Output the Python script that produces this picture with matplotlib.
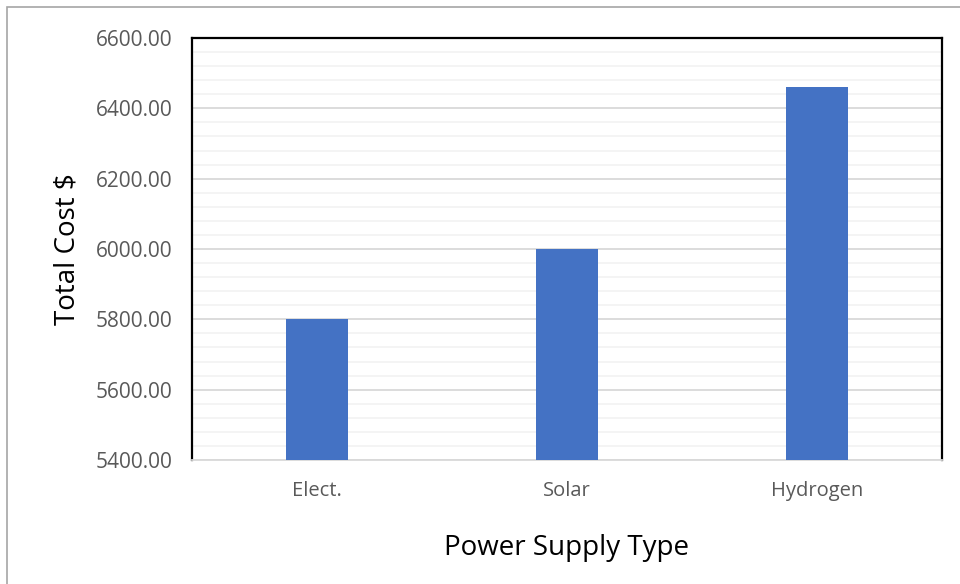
import matplotlib.pyplot as plt
from matplotlib.patches import Rectangle
import numpy as np

# data
types = ["Elect.", "Solar", "Hydrogen"]
cost = [5800.0, 6000.0, 6462.0]

plt.rcParams['font.family'] = ['Open Sans', 'DejaVu Sans']

fig = plt.figure(figsize=(9.6, 5.84), dpi=100)
ax = fig.add_axes([0.2, 0.2123, 0.78125, 0.7226])

# outer chart border
fig.patches.append(Rectangle((7 / 960, -0.1), 1.2, 1 - 7 / 584 + 0.1,
                             transform=fig.transFigure, fill=False,
                             edgecolor='#a6a6a6', linewidth=1.2))

x = np.arange(len(types))
ax.bar(x, cost, width=0.25, color='#4472c4', zorder=3)

ax.set_xlim(-0.5, 2.5)
ax.set_ylim(5400, 6600)
ax.set_yticks(np.arange(5400, 6601, 200))
ax.set_yticks(np.arange(5400, 6601, 40), minor=True)
ax.set_yticklabels([f"{v:.2f}" for v in np.arange(5400, 6601, 200)])
ax.set_xticks(x)
ax.set_xticklabels(types)

ax.grid(axis='y', which='major', color='#d9d9d9', linewidth=1.3, zorder=1)
ax.grid(axis='y', which='minor', color='#f2f2f2', linewidth=1.2, zorder=0)

ax.tick_params(axis='y', which='both', length=0, pad=14, labelsize=15, labelcolor='#595959')
ax.tick_params(axis='x', length=0, pad=15, labelsize=14.5, labelcolor='#595959')

for side in ['left', 'top', 'right']:
    ax.spines[side].set_color('black')
    ax.spines[side].set_linewidth(1.6)
ax.spines['bottom'].set_color('#d9d9d9')
ax.spines['bottom'].set_linewidth(1.3)

ax.set_ylabel("Total Cost $", fontsize=20, labelpad=10)
ax.set_xlabel("Power Supply Type", fontsize=20, labelpad=24)

fig.savefig("out.png", dpi=100)
